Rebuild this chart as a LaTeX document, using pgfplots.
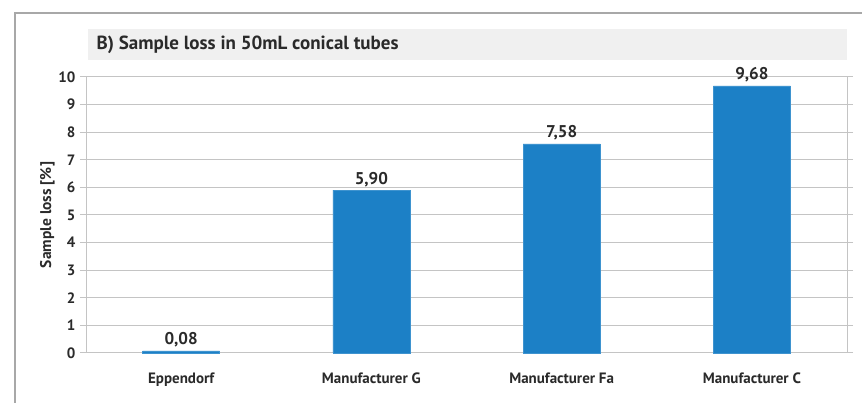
\documentclass[border=0pt]{standalone}
\usepackage{pgfplots}
\pgfplotsset{compat=1.18}
\usepackage{fontspec}
\setmainfont{PT Sans}
\definecolor{barblue}{HTML}{1C80C6}
\definecolor{gridgray}{HTML}{C4C4C4}
\definecolor{framegray}{HTML}{A8A8A8}
\definecolor{titlebg}{HTML}{F0F0F0}
\definecolor{txt}{HTML}{2A2A2A}
\begin{document}
\begin{tikzpicture}[x=1pt,y=1pt]
\path[use as bounding box,fill=white] (0,0) rectangle (862,403);
\draw[framegray,line width=1.2pt] (15,0) -- (15,390) -- (862,390);
\fill[titlebg] (88,343) rectangle (847,374);
\node[anchor=west,font=\bfseries\fontsize{19}{21}\selectfont,text=txt] at (93,358.5) {B) Sample loss in 50mL conical tubes};
\begin{axis}[
  at={(86pt,50pt)}, anchor=south west,
  scale only axis, width=761pt, height=276pt,
  xmin=-0.5, xmax=3.5, ymin=0, ymax=10,
  ytick={0,1,...,10},
  xtick={0,1,2,3},
  xticklabels={Eppendorf,Manufacturer G,Manufacturer Fa,Manufacturer C},
  xtick style={draw=none},
  extra x ticks={-0.5,0.5,1.5,2.5,3.5},
  extra x tick labels={},
  extra x tick style={grid=none, major tick length=5pt, tick align=outside, tick style={gridgray,line width=1pt}},
  ymajorgrids, grid style={gridgray,line width=1pt},
  axis line style={gridgray,line width=1pt},
  tick align=outside, major tick length=6pt,
  ytick style={gridgray,line width=1pt},
  yticklabel style={font=\bfseries\fontsize{15}{17}\selectfont,text=txt,xshift=-1pt},
  xticklabel style={font=\bfseries\fontsize{15}{17}\selectfont,text=txt,yshift=-10pt},
  /pgf/number format/assume math mode=true,
  ylabel={Sample loss [\%]},
  ylabel style={font=\bfseries\fontsize{15.5}{17}\selectfont,text=txt},
  ylabel shift=-3pt,
  ybar, bar width=77pt,
  nodes near coords,
  nodes near coords style={font=\bfseries\fontsize{17}{19}\selectfont,text=txt},
  point meta=explicit symbolic,
  clip=false,
]
\addplot[fill=barblue, draw=barblue!85!white, line width=0.5pt] coordinates {
  (0,0.08) [0,08]
  (1,5.90) [5,90]
  (2,7.58) [7,58]
  (3,9.68) [9,68]
};
\end{axis}
\end{tikzpicture}
\end{document}
